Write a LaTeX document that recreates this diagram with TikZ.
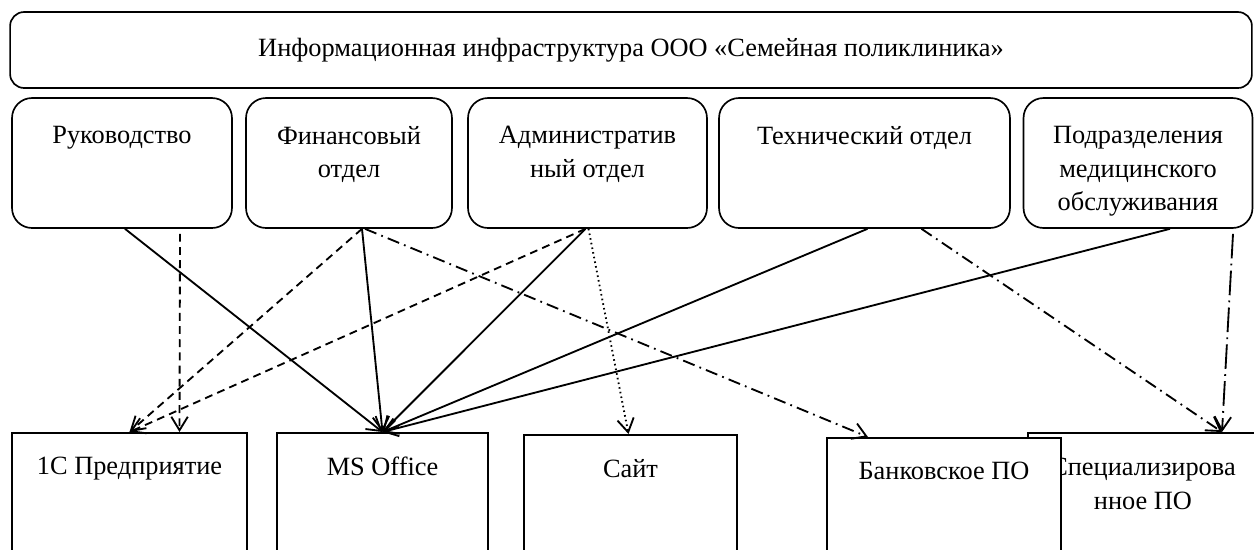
\documentclass[tikz,border=0pt]{standalone}
\usepackage{fontspec}
\setmainfont{Liberation Serif}
\usetikzlibrary{arrows.meta,calc}

\begin{document}
\begin{tikzpicture}[x=0.02cm,y=-0.02cm,
        every node/.style={font=\fontsize{15}{19}\selectfont},
        rbox/.style={draw,line width=0.95pt,rounded corners=0.4cm,minimum height=2.6cm,inner sep=0pt},
        sbox/.style={draw,line width=0.95pt,fill=white,anchor=north,minimum height=3cm,inner sep=0pt},
        lbl/.style={align=center,inner sep=0pt,anchor=north},
        link/.style={line width=1.05pt,-{Straight Barb[length=2.7mm,width=3.3mm]}},
        dashline/.style={dash pattern=on 4.5pt off 3pt},
        dotline/.style={dash pattern=on 0.9pt off 1.8pt},
        dashdotline/.style={dash pattern=on 7pt off 3pt on 1pt off 3pt},
        longdashdotline/.style={dash pattern=on 14pt off 3pt on 1pt off 3pt}]
                    \path[use as bounding box,clip] (0,0) rectangle (1254,549);
                    \node[rbox,rounded corners=0.28cm,minimum width=24.84cm,minimum height=1.52cm] (infra) at (631,50) {Информационная инфраструктура ООО «Семейная поликлиника»};
                    \node[rbox,minimum width=4.4cm] (ruk) at (122,163) {};
                    \node[rbox,minimum width=4.12cm] (fin) at (349,163) {};
                    \node[rbox,minimum width=4.78cm] (adm) at (587.5,163) {};
                    \node[rbox,minimum width=5.82cm] (tech) at (864.5,163) {};
                    \node[rbox,minimum width=4.58cm] (pod) at (1138,163) {};
                    \foreach \n/\t in {ruk/Руководство,fin/{Финансовый\\отдел},adm/{Административ\\ный отдел},tech/Технический отдел,pod/{Подразделения\\медицинского\\обслуживания}} { \node[lbl] (\n-t) at ($(\n.north)+(0,29)$) {\t}; }
                    \node[sbox,minimum width=4.7cm] (onec) at (129.5,432) {};
                    \node[sbox,minimum width=4.22cm] (office) at (382.5,432) {};
                    \node[sbox,minimum width=4.26cm] (site) at (630.5,434) {};
                    \node[sbox,minimum width=4.84cm] (spec) at (1149,432) {};
                    \node[lbl] (spec-t) at ($(spec.north)+(-6,26)$) {Специализирова\\нное ПО};
                    \node[sbox,minimum width=4.68cm] (bank) at (944,437) {};
                    \foreach \n/\t in {onec/1С Предприятие,office/MS Office,site/Сайт,bank/Банковское ПО} { \node[lbl] (\n-t) at ($(\n.north)+(0,25)$) {\t}; }
                    \draw[link] ($(ruk.south)+(3,0)$) -- (office.north);
                    \draw[link,dashline] ($(ruk.south)+(58,5)$) -- ($(onec.north)+(50,0)$);
                    \draw[link] ($(fin.south)+(13,0)$) -- (office.north);
                    \draw[link,dashline] ($(fin.south)+(13,0)$) -- (onec.north);
                    \draw[link,dashdotline] ($(fin.south)+(16,0)$) -- ($(bank.north)+(-76,0)$);
                    \draw[link,dashline] ($(adm.south)+(-2,0)$) -- (onec.north);
                    \draw[link] ($(adm.south)+(-2,0)$) -- (office.north);
                    \draw[link,dotline] ($(adm.south)+(1,0)$) -- ($(site.north)+(-2,0)$);
                    \draw[link] ($(tech.south)+(3,0)$) -- (office.north);
                    \draw[link,dashdotline] ($(tech.south)+(57,0)$) -- ($(spec.north)+(73,0)$);
                    \draw[link] ($(pod.south)+(32,0)$) -- (office.north);
                    \draw[link,longdashdotline] ($(pod.south)+(95,5)$) -- ($(spec.north)+(73,0)$);
                \end{tikzpicture}
\end{document}
